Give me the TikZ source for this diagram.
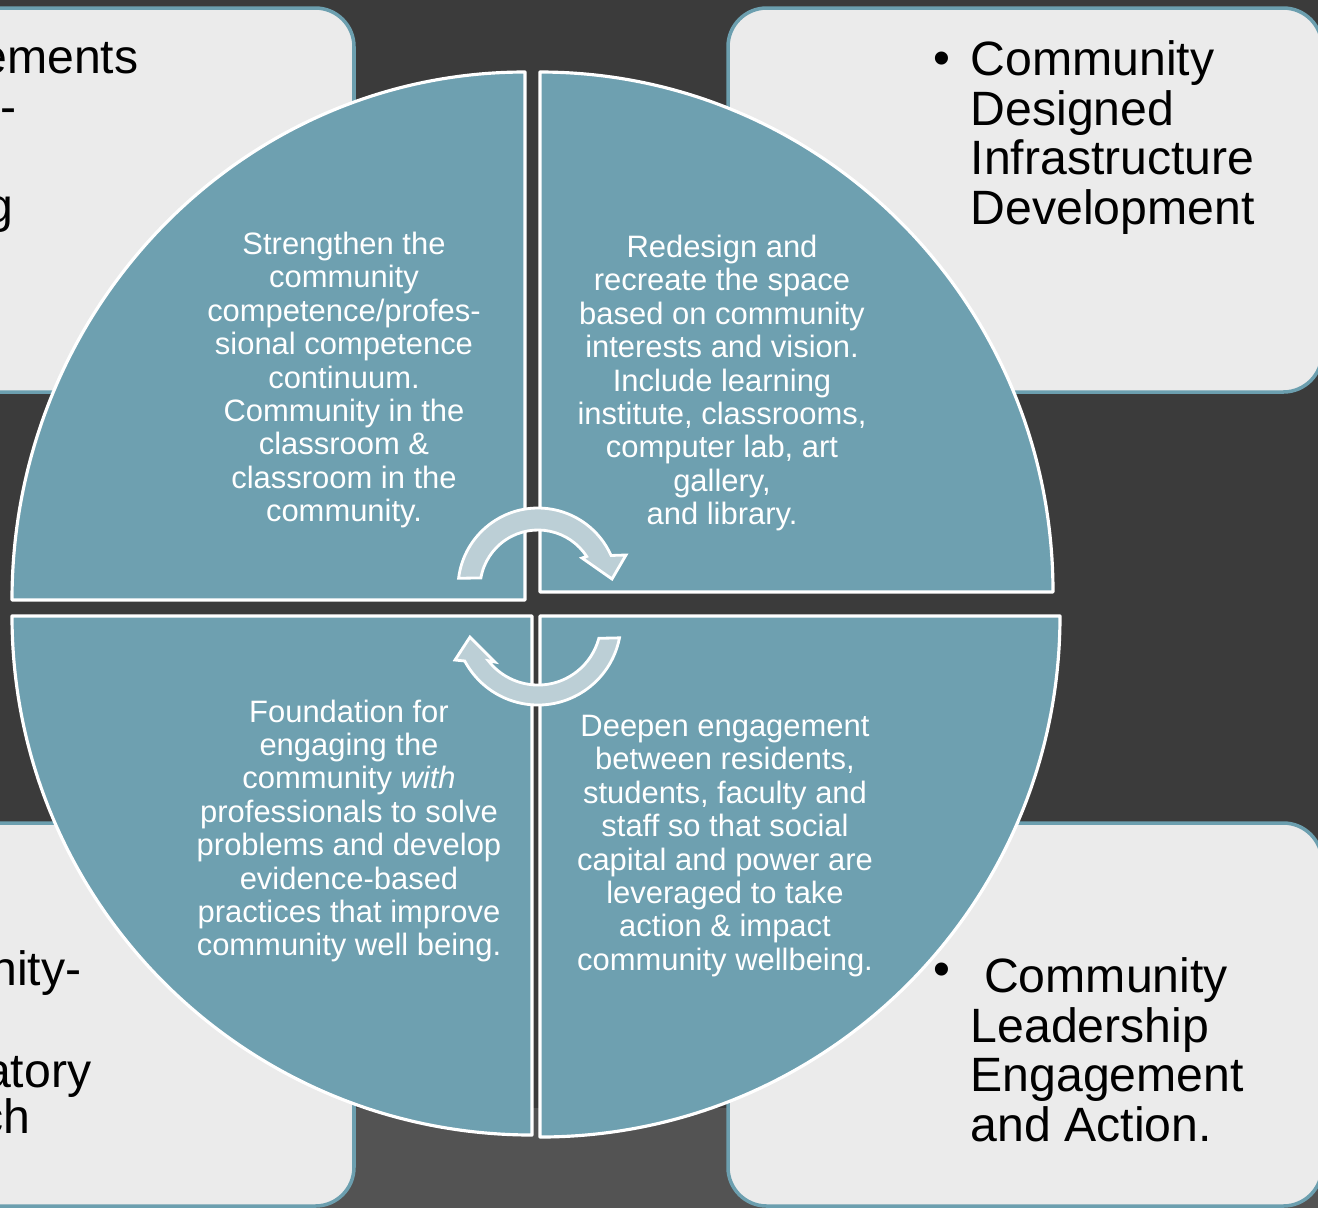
\documentclass[tikz,border=0pt]{standalone}
\usepackage{fontspec}
\setmainfont{Liberation Sans}
\usetikzlibrary{
    positioning
}
\definecolor{slidebg}{HTML}{3B3B3B}
\definecolor{slidelow}{HTML}{535353}
\definecolor{panelfill}{HTML}{EBEBEB}
\definecolor{panelline}{HTML}{6C9FAF}
\definecolor{quadfill}{HTML}{6EA0B0}
\definecolor{cyclefill}{HTML}{BCCFD6}
\tikzset{%
    panel/.style={%
        draw=panelline,
        fill=panelfill,
        line width=1pt,
        rounded corners=11pt
    },
    quadrant/.style={%
        draw=white,
        fill=quadfill,
        line width=0.9pt,
        line join=round
    },
    cycle arrow/.style={%
        draw=white,
        fill=cyclefill,
        line width=0.8pt
    },
    quad text/.style={%
        text=white,
        align=center,
        inner sep=0pt,
        font=\fontsize{8.8}{9.5}\selectfont
    },
    panel text/.style={%
        text=black,
        align=left,
        inner sep=0pt,
        font=\fontsize{13.7}{14.1}\selectfont
    },
    big bullet/.style={%
        inner sep=0pt,
        font=\fontsize{13.7}{14}\selectfont
    },
}

\begin{document}
\begin{tikzpicture}[x=0.01cm, y=0.01cm]
    \useasboundingbox (0,0) rectangle (1318,-1208);
    \fill[slidebg] (0,0) rectangle (1318,-1208);
    \fill[slidelow] (0,-1108) rectangle (1318,-1208);

    % panels behind the circle
    \draw[panel] (-200,-8) rectangle (354,-392);
    \draw[panel] (728,-8) rectangle (1322,-392);
    \draw[panel] (-200,-823) rectangle (354,-1206);
    \draw[panel] (728,-823) rectangle (1322,-1206);

    \node[panel text, anchor=base east] (agree) at (139,-73) {ements};
    \node[panel text, anchor=base east] (agreedash) at (17,-123) {-};
    \node[panel text, anchor=base east] (agreeg) at (14,-222) {g};

    \node[panel text, anchor=base east] (research1) at (82,-985) {nity-};
    \node[panel text, anchor=base east] (research2) at (92,-1087) {atory};
    \node[panel text, anchor=base east] (research3) at (31,-1133) {ch};

    \node[panel text, anchor=north west] (infra) at (970,-40) {Community\\Designed\\Infrastructure\\Development};
    \node[big bullet] (infradot) at (942,-63) {\textbullet};
    \node[panel text, anchor=north west] (leader) at (970,-957) {\hspace*{0.28em}Community\\Leadership\\Engagement\\and Action.};
    \node[big bullet] (leaderdot) at (942,-974) {\textbullet};

    % the four quarters
    \draw[quadrant] (525,-600) -- (12,-600) arc[start angle=180, end angle=90, x radius=513, y radius=528] -- cycle;
    \draw[quadrant] (540,-592) -- (540,-72) arc[start angle=90, end angle=0, x radius=513, y radius=520] -- cycle;
    \draw[quadrant] (532,-616) -- (12,-616) arc[start angle=180, end angle=270, x radius=520, y radius=519] -- cycle;
    \draw[quadrant] (540,-616) -- (1060,-616) arc[start angle=0, end angle=-90, x radius=520, y radius=521] -- cycle;

    \node[quad text] (strengthen) at (344,-380) {Strengthen the\\community\\competence/profes-\\sional competence\\continuum.\\Community in the\\classroom \&\\classroom in the\\community.};
    \node[quad text] (redesign) at (722,-383) {Redesign and\\recreate the space\\based on community\\interests and vision.\\Include learning\\institute, classrooms,\\computer lab, art\\gallery,\\and library.};
    \node[quad text] (foundation) at (349,-831) {Foundation for\\engaging the\\community \textit{with}\\professionals to solve\\problems and develop\\evidence-based\\practices that improve\\community well being.};
    \node[quad text] (deepen) at (725,-846) {Deepen engagement\\between residents,\\students, faculty and\\staff so that social\\capital and power are\\leveraged to take\\action \& impact\\community wellbeing.};

    % cycle arrows in the middle
    \coordinate (topc) at (538,-588);
    \coordinate (botc) at (538,-622);
    \draw[cycle arrow] (topc) ++(173:80) arc[start angle=173, end angle=24, radius=80]
        -- (626,-555) -- (612,-579) -- (582,-558)
        -- ([shift={(33:58)}]topc) arc[start angle=33, end angle=170, radius=58] -- cycle;
    \draw[cycle arrow] (botc) ++(349:83) arc[start angle=349, end angle=208, radius=83]
        -- (455,-660) -- (470,-637) -- (495,-662)
        -- ([shift={(218:63)}]botc) arc[start angle=218, end angle=345, radius=63] -- cycle;
\end{tikzpicture}
\end{document}
